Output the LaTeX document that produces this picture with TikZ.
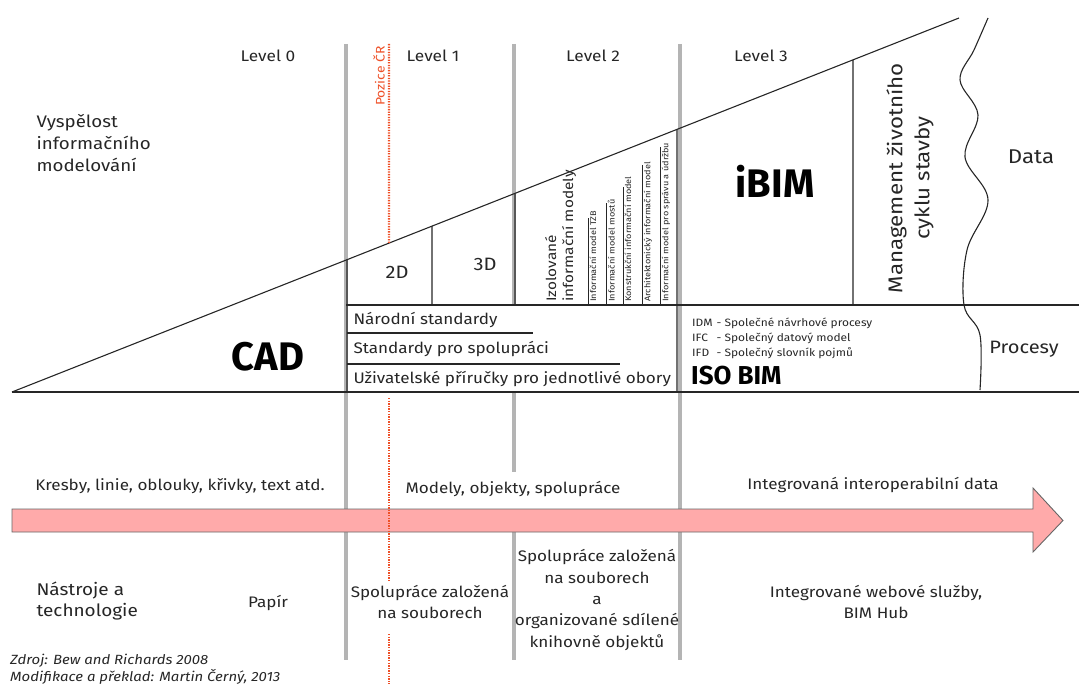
\documentclass[tikz,border=0pt]{standalone}
\usepackage{fontspec}
\setmainfont{Fira Sans}[FakeStretch=1.12]
\newfontfamily\tucne{Fira Sans}
\usepackage{tikz}
\usetikzlibrary{calc}
\definecolor{pozice}{RGB}{238,80,40}
\definecolor{sipka}{RGB}{255,170,170}
\definecolor{sloupek}{RGB}{180,180,180}

\begin{document}
\begin{tikzpicture}[x=1bp,y=-1bp,
  tenka/.style={line width=1.1bp,black!85},
  sloupec/.style={line width=4bp,sloupek},
  lvl/.style={font=\fontsize{15.5}{17}\selectfont,text=black!85},
  txt/.style={font=\fontsize{15.3}{21.5}\selectfont,text=black!85,align=center},
  velky/.style={font=\fontsize{18}{22}\selectfont,text=black!85},
  drobny/.style={font=\fontsize{8.2}{10}\selectfont,text=black!85,rotate=90,anchor=north west,inner sep=1bp}]
\useasboundingbox (0,0) rectangle (1079,684);
% the maturity wedge: apex at the left, peak at the top right
\coordinate (apex) at (12,392);
\coordinate (peak) at (959,18);
\coordinate (h0) at ($(apex)!{335/947}!(peak)$);  % x=347
\coordinate (h1) at ($(apex)!{420/947}!(peak)$);  % x=432
\coordinate (h2) at ($(apex)!{503/947}!(peak)$);  % x=515
\coordinate (h3) at ($(apex)!{665/947}!(peak)$);  % x=677
\coordinate (h4) at ($(apex)!{841/947}!(peak)$);  % x=853
\coordinate (hcr) at ($(apex)!{377/947}!(peak)$); % x=389

% grey level borders
\draw[sloupec] (346,44) -- (346,660);
\draw[sloupec] (514,44) -- (514,472);
\draw[sloupec] (514,520) -- (514,660);
\draw[sloupec] (680,44) -- (680,660);
\fill[white] (348,305) rectangle (677,391);

% wedge and boxes
\draw[tenka] (apex) -- (1079,392);
\draw[tenka] (apex) -- (peak);
\draw[tenka] (346,305) -- (1079,305);
\draw[tenka] (h0) -- (347,392);
\draw[tenka] (h1) -- (432,305);
\draw[tenka] (h2) -- (515,305);
\draw[tenka] (h3) -- (677,392);
\draw[tenka] (h4) -- (853,305);
\draw[tenka] (347,333) -- (533,333);
\draw[tenka] (347,364) -- (620,364);
\draw[tenka] plot[smooth,tension=0.6] coordinates {(988,18) (974,50) (960,80) (978,115) (965,157) (988,200) (967,250) (964,305) (980,335) (980,390)};

% level 2 sub-models
\foreach \xl/\yt/\jmeno in {588/218/{Informační model TZB},606/203/{Informační model mostů},623/187/{Konstrukční informační model},642/165/{Architektonický informační model},660/147/{Informační model pro správu a údržbu}}
{
  \draw[tenka,line width=0.9bp] (\xl,\yt) -- (\xl,305);
  \node[drobny] at (\xl+0.5,303) {\jmeno};
}

% progress arrow
\draw[black!60,fill=sipka,line width=0.9bp] (12,509) -- (1033,509) -- (1033,488) -- (1063,520.5) -- (1033,552) -- (1033,532) -- (12,532) -- cycle;

% position of the Czech Republic
\draw[pozice,line width=2.4bp,dash pattern=on 1.3bp off 1.3bp] (389,44) -- (hcr);
\draw[pozice,line width=2.4bp,dash pattern=on 1.3bp off 1.3bp] (389,398) -- (389,582);
\draw[pozice,line width=2.4bp,dash pattern=on 1.3bp off 1.3bp] (389,634) -- (389,684);
\node[pozice,rotate=90,font=\fontsize{12.5}{14}\selectfont] (pozice) at (379,76) {Pozice ČR};

% levels
\node[lvl] (lvl0) at (268,56) {Level 0};
\node[lvl] (lvl1) at (433,56) {Level 1};
\node[lvl] (lvl2) at (593,56) {Level 2};
\node[lvl] (lvl3) at (761,56) {Level 3};

\node[velky,font=\fontsize{16.8}{22}\selectfont,align=left,anchor=west] (vyspelost) at (33,143) {Vyspělost\\informačního\\modelování};
\node[font=\fontsize{40}{42}\selectfont\tucne\bfseries] (cad) at (268,357) {CAD};
\node[velky] (d2) at (397,272) {2D};
\node[velky] (d3) at (485,264) {3D};
\node[font=\fontsize{13.8}{17}\selectfont,text=black!85,rotate=90,anchor=north west,align=left,inner sep=0pt] (izol) at (545,302) {Izolované\\informační modely};
\node[font=\fontsize{40}{42}\selectfont\tucne\bfseries] (ibim) at (775,181) {iBIM};
\node[font=\fontsize{20}{27}\selectfont,text=black!85,rotate=90,align=center] (management) at (910,178) {Management životního\\cyklu stavby};
\node[velky,font=\fontsize{20}{22}\selectfont] (data) at (1031,157) {Data};
\node[velky] (procesy) at (1024,349) {Procesy};

% standards
\node[txt,anchor=west] (narodni) at (350,320) {Národní standardy};
\node[txt,anchor=west] (spoluprace) at (350,349) {Standardy pro spolupráci};
\node[txt,anchor=west] (prirucky) at (350,379) {Uživatelské příručky pro jednotlivé obory};
\node[font=\fontsize{10.7}{15.5}\selectfont,text=black!85,anchor=north west,inner sep=0pt] (iso) at (692,315)
  {\begin{tabular}{@{}l@{\hspace{4bp}}l@{}}IDM & - Společné návrhové procesy\\IFC & - Společný datový model\\IFD & - Společný slovník pojmů\end{tabular}};
\node[font=\fontsize{26}{28}\selectfont\tucne\bfseries,anchor=west,inner sep=0pt] (isobim) at (691,376) {ISO BIM};

% along the arrow
\node[txt] (kresby) at (180,486) {Kresby, linie, oblouky, křivky, text atd.};
\node[txt] (modely) at (513,489) {Modely, objekty, spolupráce};
\node[txt] (integrovana) at (873,485) {Integrovaná interoperabilní data};

% tools
\node[velky,font=\fontsize{17}{22}\selectfont,align=left,anchor=west] (nastroje) at (33,601) {Nástroje a\\technologie};
\node[txt] (papir) at (268,603) {Papír};
\node[txt] (soubory) at (430,602) {Spolupráce založená\\na souborech};
\node[txt] (knihovny) at (597,600) {Spolupráce založená\\na souborech\\a\\organizované sdílené\\knihovně objektů};
\node[txt] (webove) at (876,602) {Integrované webové služby,\\BIM Hub};

\node[font=\fontsize{13.4}{17}\selectfont\itshape,text=black!85,align=left,anchor=west,inner sep=0pt] (zdroj) at (10,669.5) {Zdroj: Bew and Richards 2008\\Modifikace a překlad: Martin Černý, 2013};
\end{tikzpicture}
\end{document}
